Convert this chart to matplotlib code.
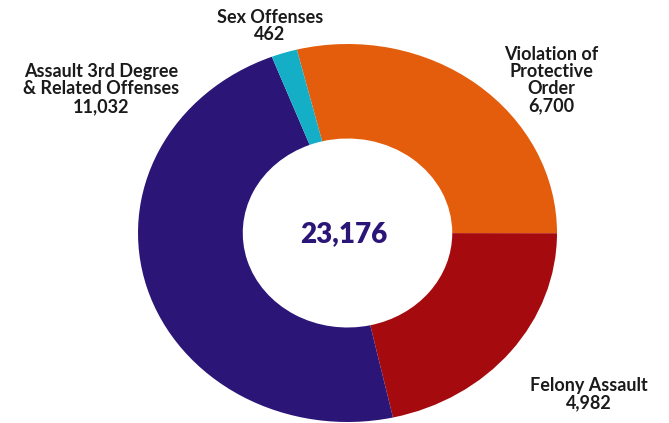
import matplotlib.pyplot as plt

categories = ["Violation of\nProtective\nOrder", "Felony Assault",
              "Assault 3rd Degree\n& Related Offenses", "Sex Offenses"]
counts = [6700, 4982, 11032, 462]
colors = ["#E35D0C", "#A50B0E", "#2B1577", "#14AFC7"]
total = sum(counts)

W, H = 669, 423
fig = plt.figure(figsize=(W / 100, H / 100), dpi=100)
# the ring is a bit wider than tall in the reference
ax = fig.add_axes([138 / W, 1 - 422 / H, 419 / W, 378 / H])
ax.pie(counts, colors=colors, startangle=104, counterclock=False,
       wedgeprops=dict(width=0.5, linewidth=0))
ax.set_aspect('auto')
ax.set_xlim(-1, 1)
ax.set_ylim(-1, 1)
ax.axis('off')


def label(x, y, s, **kw):
    fig.text(x / W, 1 - y / H, s, ha='center', va='center',
             family=['Lato', 'DejaVu Sans'], **kw)


# label positions (pixel centres), one per category
label_xy = [(551, 80), (589, 394), (101, 89), (270, 26)]
for (x, y), name, n in zip(label_xy, categories, counts):
    label(x, y, f"{name}\n{n:,}", fontsize=13, fontweight='bold',
          color='#1a1a1a', linespacing=1.02)

label(344, 234, f"{total:,}", fontsize=20, fontweight='heavy', color='#2B1577')

fig.savefig("out.png", dpi=100)
